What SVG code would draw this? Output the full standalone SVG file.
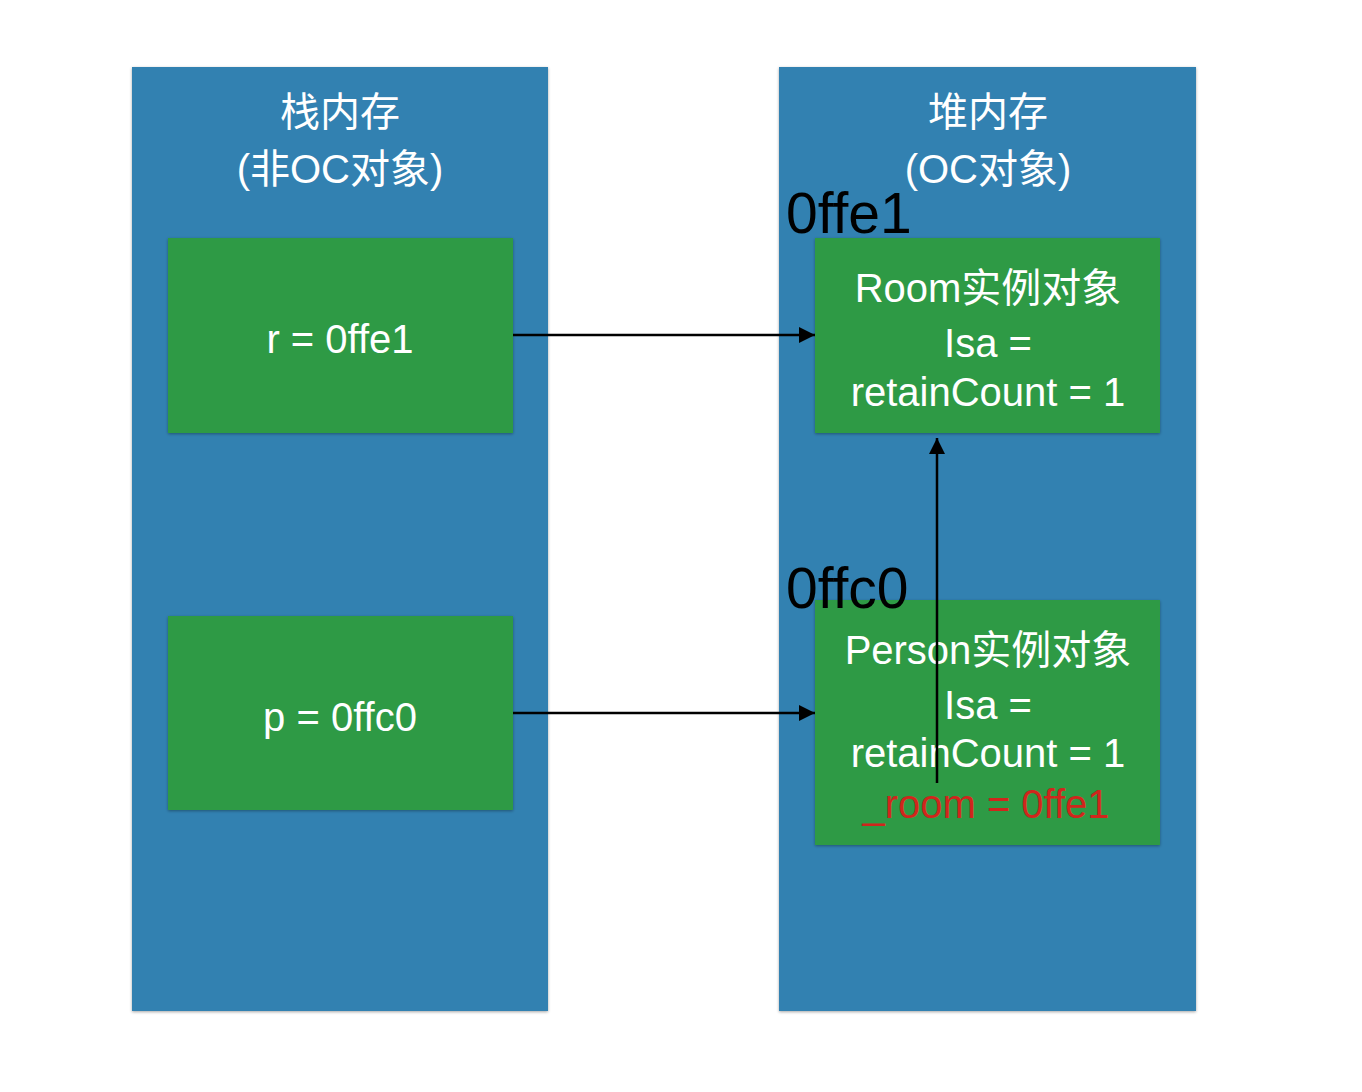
<svg xmlns="http://www.w3.org/2000/svg" width="1362" height="1092" viewBox="0 0 1362 1092">
<style>
.panel{fill:#3181b1;filter:url(#sh)}
.box{fill:#2f9a44;filter:url(#sh)}
text{font-family:"Liberation Sans","Noto Sans CJK SC",sans-serif;text-anchor:middle}
.w{fill:#ffffff;font-size:40px}
.t{fill:#ffffff;font-size:40px}
.addr{fill:#000000;font-size:57px;text-anchor:start}
.red{fill:#d0261c;font-size:40px}
.conn{stroke:#000;stroke-width:2.5;fill:none}
</style>
<defs>
<filter id="sh" x="-5%" y="-5%" width="110%" height="110%">
<feDropShadow dx="0" dy="1" stdDeviation="1.5" flood-color="#000" flood-opacity="0.35"/>
</filter>
<marker id="ah" markerWidth="16" markerHeight="16" refX="16" refY="8" orient="auto" markerUnits="userSpaceOnUse">
<path d="M0,0 L16,8 L0,16 Z" fill="#000"/>
</marker>
</defs>
<rect width="1362" height="1092" fill="#ffffff"/>
<g id="stack">
<rect class="panel" x="132" y="67" width="416" height="944"/>
<text class="t" x="340" y="126">栈内存</text>
<text class="t" x="340" y="183">(非OC对象)</text>
</g>
<g id="heap">
<rect class="panel" x="779" y="67" width="417" height="944"/>
<text class="t" x="988" y="126">堆内存</text>
<text class="t" x="988" y="183">(OC对象)</text>
</g>
<g id="var-r">
<rect class="box" x="168" y="238" width="345" height="195"/>
<text class="w" x="340" y="353">r = 0ffe1</text>
</g>
<g id="var-p">
<rect class="box" x="168" y="616" width="345" height="194"/>
<text class="w" x="340" y="731">p = 0ffc0</text>
</g>
<g id="room">
<rect class="box" x="815" y="238" width="345" height="195"/>
<text class="w" x="988" y="302">Room实例对象</text>
<text class="w" x="988" y="357">Isa =</text>
<text class="w" x="988" y="406">retainCount = 1</text>
</g>
<g id="person">
<rect class="box" x="815" y="600" width="345" height="245"/>
<text class="w" x="988" y="664">Person实例对象</text>
<text class="w" x="988" y="719">Isa =</text>
<text class="w" x="988" y="767">retainCount = 1</text>
<text class="red" x="986" y="818">_room = 0ffe1</text>
</g>
<g id="addr-room"><text class="addr" x="786" y="233">0ffe1</text></g>
<g id="addr-person"><text class="addr" x="786" y="608">0ffc0</text></g>
<g id="connectors">
<line class="conn" x1="513" y1="335" x2="815" y2="335" marker-end="url(#ah)"/>
<line class="conn" x1="513" y1="713" x2="815" y2="713" marker-end="url(#ah)"/>
<line class="conn" x1="937" y1="783" x2="937" y2="438" marker-end="url(#ah)"/>
</g>
</svg>
